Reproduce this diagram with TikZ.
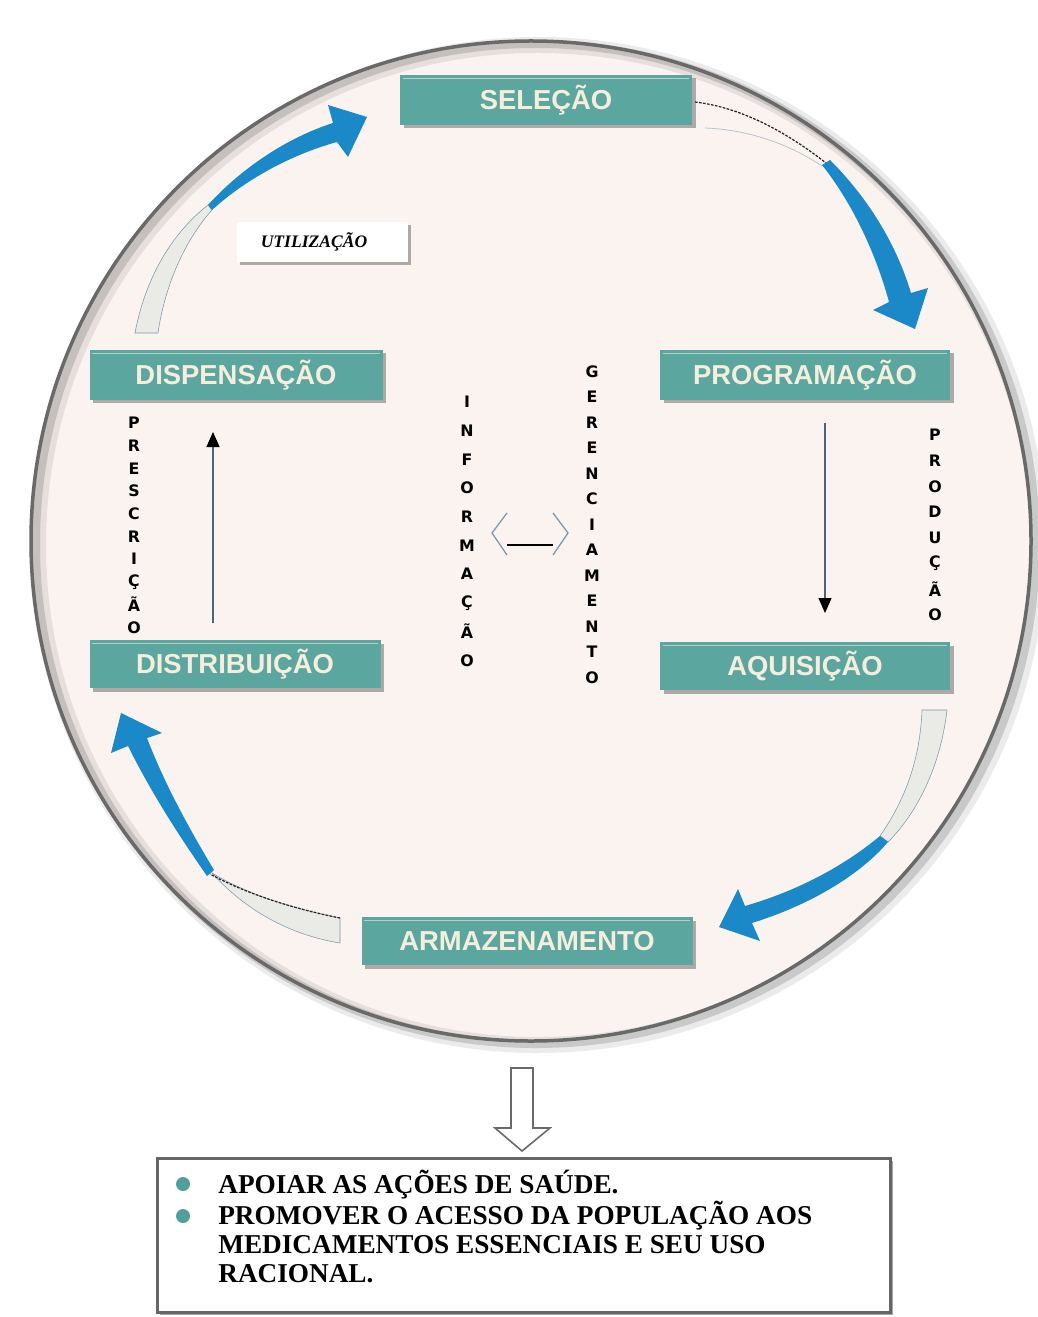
\documentclass[tikz,border=0pt]{standalone}
\usepackage{fontspec}
\setmainfont{Liberation Serif}
\newfontfamily\labfont{Liberation Sans}
\newfontfamily\heavyfont{DejaVu Sans}
\usetikzlibrary{shadows,arrows.meta}
\definecolor{tealbox}{RGB}{92,166,160}
\definecolor{creamtxt}{RGB}{246,238,220}
\definecolor{bgcirc}{RGB}{250,243,240}
\definecolor{flowblue}{RGB}{27,136,200}
\definecolor{tailgray}{RGB}{234,234,230}
\definecolor{tailedge}{RGB}{120,150,170}
\definecolor{rimgray}{RGB}{105,105,105}
\definecolor{bullteal}{RGB}{80,160,152}
\definecolor{arrowline}{RGB}{80,100,120}
\begin{document}
\begin{tikzpicture}[x=0.02cm,y=-0.02cm,
  stagebox/.style={fill=tealbox, text=creamtxt, font=\labfont\bfseries\fontsize{15.6}{18}\selectfont,
    minimum height=0.02cm*50, inner sep=0pt,
    drop shadow={shadow xshift=0.07cm, shadow yshift=-0.07cm, opacity=0.3, fill=black}},
  vletter/.style={font=\heavyfont\bfseries\fontsize{9}{10}\selectfont, inner sep=0pt},
  flow/.style={fill=flowblue, draw=none},
  tail/.style={fill=tailgray, draw=tailedge, line width=0.3pt},
  dashedge/.style={draw=black!85, dash pattern=on 1.5pt off 0.8pt, line width=0.7pt},
  goaltext/.style={font=\bfseries\fontsize{15.5}{17}\selectfont, inner sep=0pt, anchor=base west},
  bullet/.style={circle, fill=bullteal, minimum size=0.02cm*14, inner sep=0pt},
  thinarrow/.style={draw=arrowline, line width=0.6pt, -{Triangle[color=black, length=0.02cm*15, width=0.02cm*13]}}
]
\useasboundingbox (0,0) rectangle (1037,1317);
\fill[white] (0,0) rectangle (1037,1317);

% big circle
\fill[bgcirc] (531,541) circle (500);
\draw[black, opacity=0.08, line width=0.02cm*16] (538,545) circle (500);
\draw[black, opacity=0.14, line width=0.02cm*8] (536,544) circle (500);
\draw[rimgray, line width=0.02cm*3.5] (531,541) circle (500);

% stage boxes
\node[stagebox, minimum width=0.02cm*292] (sel) at (546,100) {SELEÇÃO};
\node[stagebox, minimum width=0.02cm*293] (disp) at (236,375) {DISPENSAÇÃO};
\node[stagebox, minimum width=0.02cm*290] (prog) at (805,375) {PROGRAMAÇÃO};
\node[stagebox, minimum width=0.02cm*291, minimum height=0.02cm*48] (dist) at (235,664) {DISTRIBUIÇÃO};
\node[stagebox, minimum width=0.02cm*290, minimum height=0.02cm*48] (aqui) at (805,666) {AQUISIÇÃO};
\node[stagebox, minimum width=0.02cm*331, minimum height=0.02cm*48] (arm) at (527,941) {ARMAZENAMENTO};
\foreach \n in {sel,disp,prog,dist,aqui,arm}
  \draw[creamtxt!60!tealbox, line width=0.5pt] ([shift={(3,4)}]\n.north west) -- ([shift={(-3,4)}]\n.north east);

% utilizacao label
\node[fill=white, minimum width=0.02cm*171, minimum height=0.02cm*40, inner sep=0pt,
  drop shadow={shadow xshift=0.06cm, shadow yshift=-0.06cm, opacity=0.3, fill=black}] (utilbox) at (322,242) {};
\node[font=\bfseries\itshape\fontsize{10}{12}\selectfont, inner sep=0pt] (utiltext) at (314,242) {UTILIZAÇÃO};

% vertical words
\foreach \l [count=\i from 0] in {P,R,E,S,C,R,I,Ç,Ã,O}
  \node[vletter] (presc\i) at (134,423+\i*22.7) {\l};
\foreach \l [count=\i from 0] in {P,R,O,D,U,Ç,Ã,O}
  \node[vletter] (prod\i) at (935,435+\i*25.7) {\l};
\foreach \l [count=\i from 0] in {I,N,F,O,R,M,A,Ç,Ã,O}
  \node[vletter] (info\i) at (467,402+\i*28.7) {\l};
\foreach \l [count=\i from 0] in {G,E,R,E,N,C,I,A,M,E,N,T,O}
  \node[vletter] (ger\i) at (592,371.5+\i*25.5) {\l};

% thin vertical arrows
\coordinate (upS) at (213,623); \coordinate (upE) at (213,432);
\coordinate (dnS) at (825,423); \coordinate (dnE) at (825,613);
\draw[thinarrow] (upS) -- (upE);
\draw[thinarrow] (dnS) -- (dnE);

% central double arrow
\coordinate (dL) at (507,545); \coordinate (dR) at (553,545);
\draw[black, line width=1.2pt] (dL) -- (dR);
\draw[tailedge, line width=0.7pt] (507,513) -- (492,533) -- (507,555);
\draw[tailedge, line width=0.7pt] (553,513) -- (568,533) -- (553,555);

% arrow 1 (utilizacao -> selecao)
\filldraw[tail] (135,333) .. controls (145,280) and (170,235) .. (208,205) -- (212,210)
  .. controls (185,240) and (165,285) .. (158,333) -- cycle;
\fill[flow] (208,205) .. controls (235,175) and (280,140) .. (333,123) -- (328,105) -- (367,117)
  -- (348,157) -- (337,142) .. controls (290,155) and (245,180) .. (212,210) -- cycle;

% arrow 2 (selecao -> programacao)
\draw[tailedge!60, line width=0.4pt] (705,128) .. controls (755,130) and (795,148) .. (822,166);
\draw[dashedge] (695,102) .. controls (745,108) and (790,135) .. (826,163);
\fill[flow] (822,165) .. controls (850,200) and (875,250) .. (889,302) -- (873,310) -- (915,329)
  -- (928,288) -- (911,293) .. controls (895,240) and (865,195) .. (830,160) -- cycle;

% arrow 3 (aquisicao -> armazenamento)
\filldraw[tail] (922,710) -- (947,710) .. controls (940,770) and (915,815) .. (888,842) -- (880,836)
  .. controls (905,800) and (920,760) .. (922,710) -- cycle;
\fill[flow] (880,836) .. controls (845,865) and (800,890) .. (745,906) -- (738,889) -- (719,927)
  -- (760,941) -- (752,923) .. controls (810,905) and (860,875) .. (888,842) -- cycle;

% arrow 4 (armazenamento -> distribuicao)
\filldraw[tail] (340,918) .. controls (290,908) and (245,893) .. (212,873)
  .. controls (245,910) and (290,935) .. (340,943) -- cycle;
\draw[dashedge] (340,918) .. controls (290,908) and (245,893) .. (210,874);
\fill[flow] (207,876) .. controls (175,830) and (150,790) .. (128,746) -- (111,753) -- (121,713)
  -- (162,733) -- (147,738) .. controls (165,785) and (190,830) .. (214,870) -- cycle;

% hollow down arrow
\draw[fill=white, draw=rimgray, line width=0.9pt] (511,1068) -- (533,1068) -- (533,1128) -- (550,1128)
  -- (522,1151) -- (495,1128) -- (511,1128) -- cycle;

% goals box
\node[draw=gray!80!black, fill=white, line width=0.02cm*3, minimum width=0.02cm*733,
  minimum height=0.02cm*154, inner sep=0pt,
  drop shadow={shadow xshift=0.05cm, shadow yshift=-0.05cm, opacity=0.35, fill=black}] (goal) at (524,1235) {};
\node[bullet] (b1) at (183,1184) {};
\node[bullet] (b2) at (183,1216) {};
\node[goaltext] (t1) at (218,1193) {APOIAR AS AÇÕES DE SAÚDE.};
\node[goaltext] (t2) at (218,1224) {PROMOVER O ACESSO DA POPULAÇÃO AOS};
\node[goaltext] (t3) at (218,1253) {MEDICAMENTOS ESSENCIAIS E SEU USO};
\node[goaltext] (t4) at (218,1282) {RACIONAL.};
\end{tikzpicture}
\end{document}
